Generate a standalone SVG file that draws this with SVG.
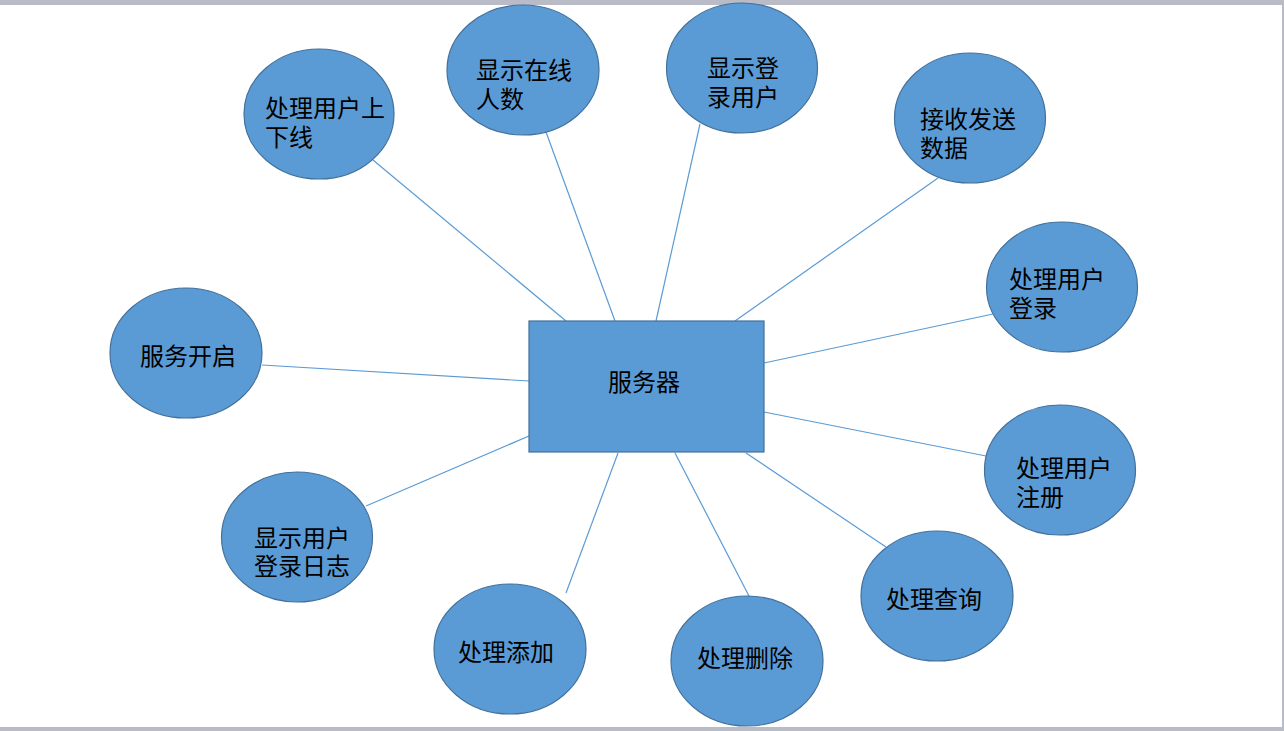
<svg xmlns="http://www.w3.org/2000/svg" width="1284" height="731" viewBox="0 0 1284 731">
<style>
.n{fill:#5B9BD5;stroke:#41719C;stroke-width:1.2}
.t{font-family:"Liberation Sans","Noto Sans CJK SC",sans-serif;font-size:24px;fill:#000}
.c line{stroke:#5B9BD5;stroke-width:1.2}
</style>
<rect x="0" y="0" width="1284" height="731" fill="#ffffff"/>
<rect x="0" y="0" width="1284" height="5" fill="#b9bbc6"/>
<rect x="1282" y="0" width="2" height="731" fill="#b9bbc6"/>
<rect x="0" y="727" width="1284" height="4" fill="#b9bbc6"/>
<g id="connectors" class="c">
<line x1="373" y1="160" x2="566" y2="321"/>
<line x1="546" y1="132" x2="615" y2="321"/>
<line x1="700" y1="124" x2="656" y2="321"/>
<line x1="938" y1="178" x2="735" y2="321"/>
<line x1="993" y1="314" x2="764" y2="363"/>
<line x1="986" y1="456" x2="764" y2="412"/>
<line x1="886" y1="547" x2="746" y2="453"/>
<line x1="749" y1="596" x2="675" y2="453"/>
<line x1="566" y1="593" x2="618" y2="453"/>
<line x1="366" y1="506" x2="529" y2="436"/>
<line x1="262" y1="365" x2="529" y2="381"/>
</g>
<g id="server">
<rect class="n" x="529" y="321" width="235" height="131"/>
<text class="t" x="608" y="391">服务器</text>
</g>
<g id="n1">
<ellipse class="n" cx="319" cy="114" rx="75" ry="65"/>
<text class="t" x="265" y="117">处理用户上<tspan x="265" dy="29">下线</tspan></text>
</g>
<g id="n2">
<ellipse class="n" cx="523" cy="70" rx="76" ry="65"/>
<text class="t" x="476" y="79">显示在线<tspan x="476" dy="29">人数</tspan></text>
</g>
<g id="n3">
<ellipse class="n" cx="742" cy="68" rx="75.5" ry="65"/>
<text class="t" x="707" y="77">显示登<tspan x="707" dy="29">录用户</tspan></text>
</g>
<g id="n4">
<ellipse class="n" cx="970" cy="118" rx="75.5" ry="65"/>
<text class="t" x="920" y="128">接收发送<tspan x="920" dy="29">数据</tspan></text>
</g>
<g id="n5">
<ellipse class="n" cx="1062" cy="287" rx="75.5" ry="65"/>
<text class="t" x="1009" y="288">处理用户<tspan x="1009" dy="29">登录</tspan></text>
</g>
<g id="n6">
<ellipse class="n" cx="1060" cy="470" rx="75.5" ry="65"/>
<text class="t" x="1016" y="477">处理用户<tspan x="1016" dy="29">注册</tspan></text>
</g>
<g id="n7">
<ellipse class="n" cx="937" cy="596" rx="76" ry="65"/>
<text class="t" x="886" y="608">处理查询</text>
</g>
<g id="n8">
<ellipse class="n" cx="747" cy="661" rx="76" ry="65"/>
<text class="t" x="697" y="667">处理删除</text>
</g>
<g id="n9">
<ellipse class="n" cx="510" cy="649" rx="76" ry="65"/>
<text class="t" x="458" y="661">处理添加</text>
</g>
<g id="n10">
<ellipse class="n" cx="297" cy="537" rx="75.5" ry="65"/>
<text class="t" x="254" y="547">显示用户<tspan x="254" dy="28">登录日志</tspan></text>
</g>
<g id="n11">
<ellipse class="n" cx="186" cy="353" rx="76" ry="65"/>
<text class="t" x="140" y="365">服务开启</text>
</g>
</svg>
